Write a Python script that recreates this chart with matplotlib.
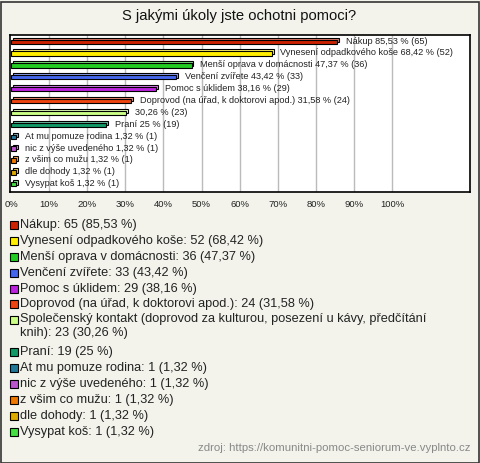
import matplotlib.pyplot as plt
from matplotlib.patches import Rectangle
from matplotlib.colors import to_rgb

plt.rcParams['font.family'] = ['Liberation Sans', 'DejaVu Sans']

# data
names = ['Nákup', 'Vynesení odpadkového koše', 'Menší oprava v domácnosti',
         'Venčení zvířete', 'Pomoc s úklidem', 'Doprovod (na úřad, k doktorovi apod.)',
         'Společenský kontakt (doprovod za kulturou, posezení u kávy, předčítání\nknih)',
         'Praní', 'At mu pomuze rodina', 'nic z výše uvedeného', 'z všim co mužu',
         'dle dohody', 'Vysypat koš']
bar_names = ['Nákup', 'Vynesení odpadkového koše', 'Menší oprava v domácnosti',
             'Venčení zvířete', 'Pomoc s úklidem', 'Doprovod (na úřad, k doktorovi apod.)',
             '', 'Praní', 'At mu pomuze rodina', 'nic z výše uvedeného', 'z všim co mužu',
             'dle dohody', 'Vysypat koš']
counts = [65, 52, 36, 33, 29, 24, 23, 19, 1, 1, 1, 1, 1]
percents = [85.53, 68.42, 47.37, 43.42, 38.16, 31.58, 30.26, 25, 1.32, 1.32, 1.32, 1.32, 1.32]
colors = ['#cc2200', '#ffee00', '#22cc22', '#4466ee', '#bb22dd', '#ee4411', '#ccff88',
          '#119966', '#227799', '#bb55cc', '#ee7700', '#ddaa00', '#44dd44']
ticks = list(range(0, 101, 10))


def cz(v):
    s = ('%.2f' % v).rstrip('0').rstrip('.')
    return s.replace('.', ',')


W, H = 480, 463
fig = plt.figure(figsize=(W / 100, H / 100), dpi=100)
fig.patch.set_facecolor('#f3f3ec')
fig.patches.append(Rectangle((0.5 / W, 0.5 / H), 1 - 2 / W, 1 - 2 / H, transform=fig.transFigure,
                             fill=False, edgecolor='#333333', lw=1.2))

fig.text(239 / W, 1 - 16 / H, 'S jakými úkoly jste ochotni pomoci?', ha='center', va='center',
         fontsize=10.6, color='#111111')

ax = fig.add_axes([10 / W, 1 - 192 / H, 460 / W, 157 / H])
ax.set_facecolor('white')
ax.set_xlim(-0.3, 120.5)
ax.set_ylim(12.65, -0.56)
for s in ax.spines.values():
    s.set_color('black')
    s.set_linewidth(1.2)
ax.set_yticks([])
ax.set_xticks(ticks)
ax.set_xticklabels(['%d%%' % t for t in ticks], fontsize=6.8, color='#222222')
ax.tick_params(axis='x', length=0, pad=6)
for t in ticks[1:]:
    ax.axvline(t, color='#bbbbbb', lw=1, zorder=0)

h = 0.36
dx, dy = 0.5, -0.16
for i, (p, c) in enumerate(zip(percents, colors)):
    light = tuple(min(1, v * 0.6 + 0.4) for v in to_rgb(c))
    ax.barh(i + dy, p, left=dx, height=h, color=light, edgecolor='black', lw=0.8, zorder=2)
    ax.barh(i, p, height=h, color=c, edgecolor='black', lw=0.8, zorder=3)
    lab = ('%s %s %% (%d)' % (bar_names[i], cz(p), counts[i])).strip()
    ax.text(p + 2.3, i - 0.05, lab, va='center', ha='left', fontsize=6.6, color='#222222', zorder=4)

# legend below
y = 225
for i, (n, c) in enumerate(zip(names, colors)):
    fig.patches.append(Rectangle((10 / W, 1 - (y + 4) / H), 8 / W, 8 / H, transform=fig.transFigure,
                                 facecolor=c, edgecolor='black', lw=0.8))
    fig.text(20.5 / W, 1 - y / H, '%s: %d (%s %%)' % (n, counts[i], cz(percents[i])),
             ha='left', va='top' if '\n' in n else 'center', fontsize=9.2, color='#222222',
             linespacing=1.28)
    if '\n' in n:
        fig.texts[-1].set_y(1 - (y - 7.5) / H)
    y += 15.9 * (n.count('\n') + 1)

fig.text(470 / W, 1 - 448 / H, 'zdroj: https://komunitni-pomoc-seniorum-ve.vyplnto.cz',
         ha='right', va='center', fontsize=8.2, color='#888888')

fig.savefig('out.png', dpi=100, facecolor=fig.get_facecolor())
